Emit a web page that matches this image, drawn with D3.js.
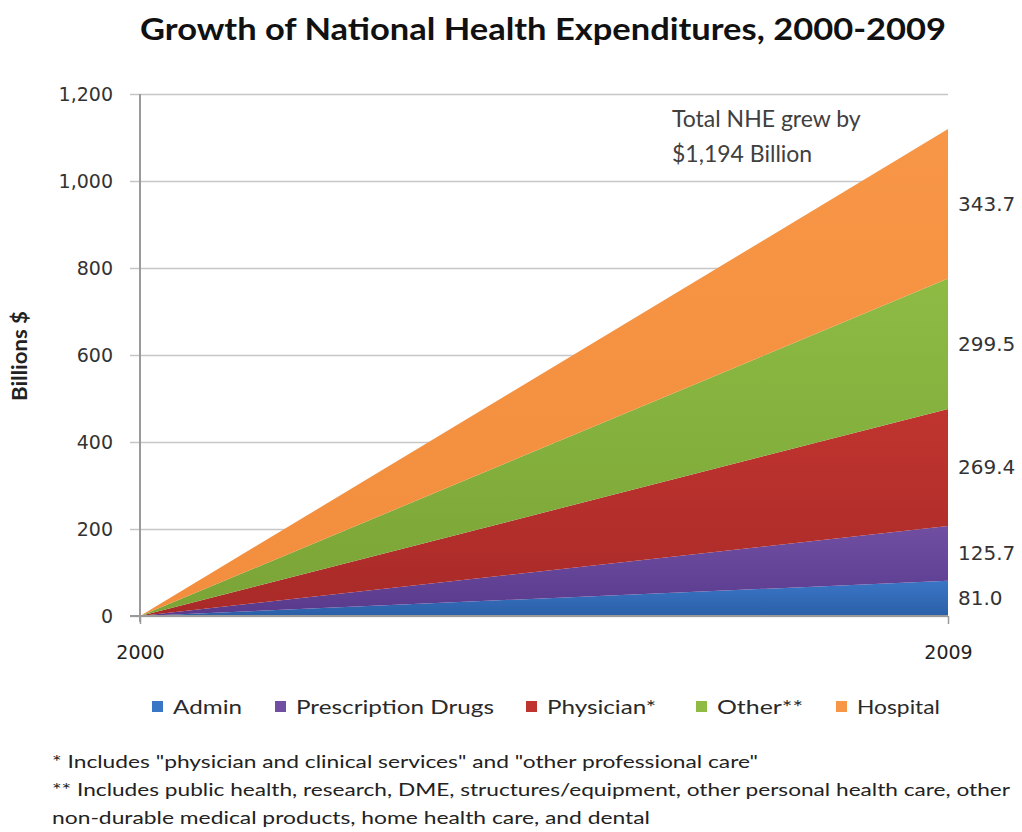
<!DOCTYPE html>
<html>
<head>
<meta charset="utf-8">
<script src="https://cdn.jsdelivr.net/npm/d3@7"></script>
<style>
  body { margin: 0; background: #fff; }
  svg { display: block; }
</style>
</head>
<body>
<div id="chart"></div>
<script>
// growth since 2000, billions $
var years = [2000, 2009];
var admin = [0, 81.0];
var rxDrugs = [0, 125.7];
var physician = [0, 269.4];
var other = [0, 299.5];
var hospital = [0, 343.7];

var seriesNames = ["Admin", "Prescription Drugs", "Physician*", "Other**", "Hospital"];
var seriesKeys = ["admin", "rx", "physician", "other", "hospital"];
var colors = ["#3a76c6", "#704fa3", "#c0342f", "#8dbb44", "#f79646"];
var darkColors = ["#2b5fa8", "#58398c", "#a82a28", "#7aa436", "#f28e3e"];
var yTicks = [0, 200, 400, 600, 800, 1000, 1200];

var data = years.map(function(yr, i) {
  return { year: yr, admin: admin[i], rx: rxDrugs[i], physician: physician[i],
           other: other[i], hospital: hospital[i] };
});

var svgWidth = 1022;
var svgHeight = 832;
var margin = { top: 94, right: 74, bottom: 216, left: 140 };
var width = svgWidth - margin.left - margin.right;
var height = svgHeight - margin.top - margin.bottom;

var svg = d3.select("#chart")
  .append("svg")
  .attr("width", svgWidth)
  .attr("height", svgHeight);

var defs = svg.append("defs");
seriesKeys.forEach(function(k, i) {
  var grad = defs.append("linearGradient")
    .attr("id", "grad-" + k)
    .attr("x1", 0).attr("y1", 0).attr("x2", 0).attr("y2", 1);
  grad.append("stop").attr("offset", "0%").attr("stop-color", colors[i]);
  grad.append("stop").attr("offset", "100%").attr("stop-color", darkColors[i]);
});

var xScale = d3.scaleLinear()
  .domain([2000, 2009])
  .range([0, width]);

var yScale = d3.scaleLinear()
  .domain([0, 1200])
  .range([height, 0]);

var g = svg.append("g")
  .attr("transform", `translate(${margin.left}, ${margin.top})`);

// gridlines
var yAxis = d3.axisLeft(yScale)
  .tickValues(yTicks)
  .tickSize(-width)
  .tickPadding(27)
  .tickFormat(d3.format(","));

var yAxisG = g.append("g").call(yAxis);
yAxisG.select(".domain").remove();
yAxisG.selectAll(".tick line")
  .attr("x1", -10)
  .attr("stroke", "#c6c6c6")
  .attr("stroke-width", 1.5);
yAxisG.selectAll(".tick text")
  .attr("fill", "#333")
  .style("font-family", "DejaVu Sans, Verdana, sans-serif")
  .style("font-size", "19px");

// stacked areas
var stack = d3.stack().keys(seriesKeys);
var layers = stack(data);

var area = d3.area()
  .x(d => xScale(d.data.year))
  .y0(d => yScale(d[0]))
  .y1(d => yScale(d[1]));

g.selectAll(".layer")
  .data(layers)
  .enter()
  .append("path")
  .attr("class", "layer")
  .attr("fill", d => "url(#grad-" + d.key + ")")
  .attr("d", area);

// axes lines
g.append("line")
  .attr("x1", 0).attr("x2", 0)
  .attr("y1", 0).attr("y2", height + 6)
  .attr("stroke", "#9a9a9a")
  .attr("stroke-width", 2);

g.append("line")
  .attr("x1", -10).attr("x2", width)
  .attr("y1", height).attr("y2", height)
  .attr("stroke", "#9a9a9a")
  .attr("stroke-width", 2);

var xAxis = d3.axisBottom(xScale)
  .tickValues(years)
  .tickSize(8)
  .tickPadding(22)
  .tickFormat(d3.format("d"));

var xAxisG = g.append("g")
  .attr("transform", `translate(0,${height})`)
  .call(xAxis);
xAxisG.select(".domain").remove();
xAxisG.selectAll(".tick line").attr("stroke", "#9a9a9a").attr("stroke-width", 1.5);
xAxisG.selectAll(".tick text")
  .attr("fill", "#222")
  .style("font-family", "DejaVu Sans, Verdana, sans-serif")
  .style("font-size", "19px");

// value labels at 2009
var last = layers.map(function(l) { return l[l.length - 1]; });
g.selectAll(".val")
  .data(last)
  .enter()
  .append("text")
  .attr("class", "val")
  .attr("x", width + 10)
  .attr("y", d => yScale((d[0] + d[1]) / 2))
  .attr("dy", "0.35em")
  .attr("fill", "#333")
  .style("font-family", "DejaVu Sans, Verdana, sans-serif")
  .style("font-size", "20px")
  .text(d => (d[1] - d[0]).toFixed(1));

// annotation
var note = g.append("text")
  .attr("fill", "#404040")
  .style("font-family", "Lato, sans-serif")
  .style("font-size", "23px");
note.append("tspan").attr("x", 532).attr("y", 33).text("Total NHE grew by");
note.append("tspan").attr("x", 532).attr("y", 68).text("$1,194 Billion");

// y-axis title
svg.append("text")
  .attr("transform", "translate(27, 356) rotate(-90)")
  .attr("text-anchor", "middle")
  .attr("textLength", 90)
  .attr("lengthAdjust", "spacingAndGlyphs")
  .attr("fill", "#222")
  .style("font-family", "Lato, sans-serif")
  .style("font-weight", "bold")
  .style("font-size", "21px")
  .text("Billions $");

// title
svg.append("text")
  .attr("x", 140)
  .attr("y", 40)
  .attr("textLength", 806)
  .attr("lengthAdjust", "spacingAndGlyphs")
  .attr("fill", "#111")
  .style("font-family", "Lato, sans-serif")
  .style("font-weight", "bold")
  .style("font-size", "30px")
  .text("Growth of National Health Expenditures, 2000-2009");

// legend
var legendX = [152, 275, 526, 696, 836];
var legendLen = [69, 198, 109, 86, 83];
var legend = svg.selectAll(".legend")
  .data(seriesNames)
  .enter()
  .append("g")
  .attr("class", "legend")
  .attr("transform", (d, i) => `translate(${legendX[i]}, 707)`);

legend.append("rect")
  .attr("x", 0).attr("y", -6)
  .attr("width", 11).attr("height", 11)
  .attr("fill", (d, i) => colors[i]);

legend.append("text")
  .attr("x", 21)
  .attr("dy", "0.36em")
  .attr("textLength", (d, i) => legendLen[i])
  .attr("lengthAdjust", "spacingAndGlyphs")
  .attr("fill", "#2a2a2a")
  .style("font-family", "Lato, sans-serif")
  .style("font-size", "20px")
  .text(d => d);

// footnotes
var notes = [
  "*  Includes \"physician and clinical services\" and \"other professional care\"",
  "**  Includes public health, research, DME,  structures/equipment, other personal health care, other",
  "non-durable medical products,  home health care, and dental"
];
var noteLen = [706, 958, 598];
svg.selectAll(".foot")
  .data(notes)
  .enter()
  .append("text")
  .attr("class", "foot")
  .attr("x", 52)
  .attr("y", (d, i) => 768 + i * 28)
  .attr("textLength", (d, i) => noteLen[i])
  .attr("lengthAdjust", "spacingAndGlyphs")
  .attr("fill", "#222")
  .style("font-family", "Lato, sans-serif")
  .style("font-size", "17px")
  .text(d => d);
</script>
</body>
</html>
